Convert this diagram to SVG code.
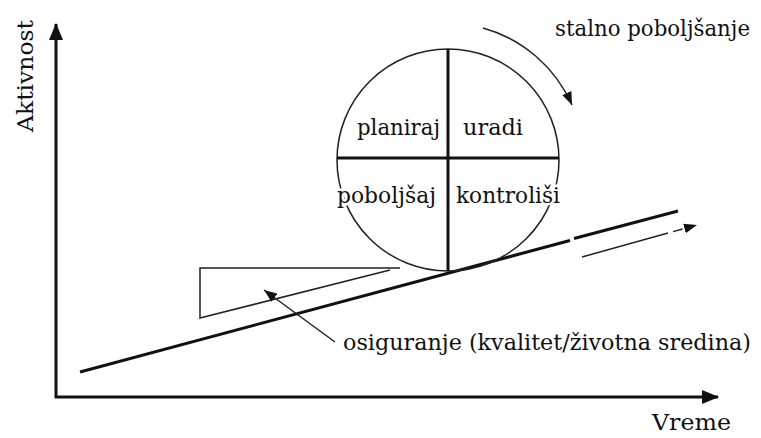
<svg xmlns="http://www.w3.org/2000/svg" width="761" height="438" viewBox="0 0 761 438">
<style>
  .t { font-family: "DejaVu Serif", "Liberation Serif", serif; font-size: 22px; fill: #111; }
  .halo { paint-order: stroke; stroke: #fff; stroke-width: 5px; stroke-linejoin: round; }
  .thin { stroke: #222; stroke-width: 1.5; fill: none; }
  .thick { stroke: #111; stroke-width: 3; fill: none; }
</style>
<defs>
  <marker id="big" markerUnits="userSpaceOnUse" markerWidth="18" markerHeight="14" refX="16" refY="7" orient="auto">
    <path d="M0,0 L17,7 L0,14 z" fill="#111"/>
  </marker>
  <marker id="small" markerUnits="userSpaceOnUse" markerWidth="14" markerHeight="10" refX="13" refY="5" orient="auto">
    <path d="M0,0 L13,5 L0,10 z" fill="#111"/>
  </marker>
</defs>
<rect width="761" height="438" fill="#fff"/>

<g id="axes">
  <line class="thick" x1="56" y1="398" x2="56" y2="24" marker-end="url(#big)"/>
  <line class="thick" x1="55" y1="397" x2="718" y2="397" marker-end="url(#big)"/>
  <text class="t" transform="translate(33,132) rotate(-90)" textLength="112" lengthAdjust="spacingAndGlyphs">Aktivnost</text>
  <text class="t" x="652" y="430" textLength="79" lengthAdjust="spacingAndGlyphs">Vreme</text>
</g>

<g id="slope">
  <line class="thick" x1="80" y1="372" x2="570" y2="240.5"/>
  <line class="thick" x1="574" y1="238.5" x2="678" y2="211"/>
</g>

<g id="wedge">
  <polyline class="thin" points="400,268 200,268 200,318 390,270"/>
</g>

<g id="cycle">
  <circle class="thin" cx="448" cy="160" r="111"/>
  <line class="thick" x1="337" y1="158" x2="559" y2="158"/>
  <line class="thick" x1="448" y1="49" x2="448" y2="271"/>
  <text class="t halo" x="357" y="135" textLength="83" lengthAdjust="spacingAndGlyphs">planiraj</text>
  <text class="t halo" x="463" y="135" textLength="60" lengthAdjust="spacingAndGlyphs">uradi</text>
  <text class="t halo" x="337" y="203" textLength="99" lengthAdjust="spacingAndGlyphs">poboljšaj</text>
  <text class="t halo" x="456" y="203" textLength="104" lengthAdjust="spacingAndGlyphs">kontroliši</text>
</g>

<g id="improvement-label">
  <text class="t" x="555" y="36" textLength="195" lengthAdjust="spacingAndGlyphs">stalno poboljšanje</text>
</g>

<g id="assurance-label">
  <text class="t" x="343" y="350" textLength="408" lengthAdjust="spacingAndGlyphs">osiguranje (kvalitet/životna sredina)</text>
</g>

<g id="connectors">
  <path class="thin" d="M483,28 A137,137 0 0 1 572,105" marker-end="url(#small)"/>
  <line class="thin" x1="335" y1="342" x2="264" y2="290" marker-end="url(#small)"/>
  <line class="thin" x1="582" y1="257" x2="668" y2="233"/>
  <line class="thin" x1="673" y1="231.6" x2="697" y2="225" marker-end="url(#small)" stroke-dasharray="10 30"/>
</g>
</svg>
